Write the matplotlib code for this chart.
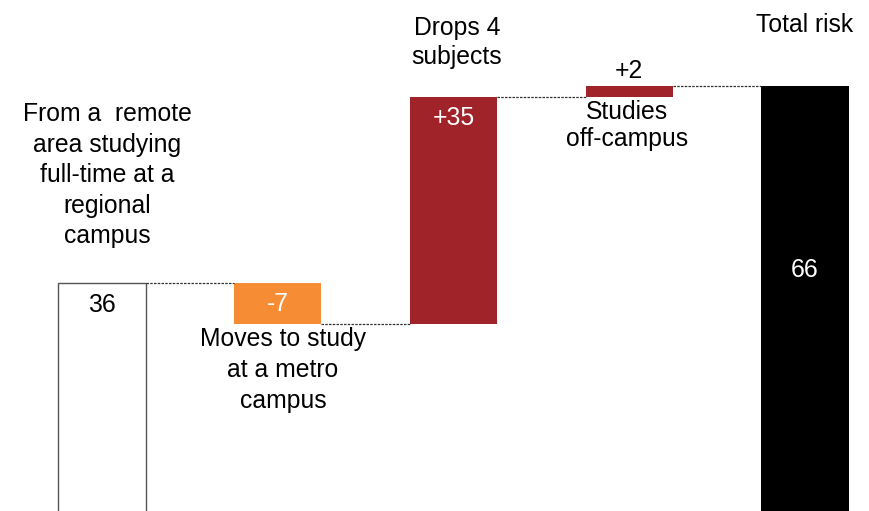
import matplotlib
matplotlib.use("Agg")
import matplotlib.pyplot as plt
import numpy as np

plt.rcParams['font.family'] = ['Liberation Sans', 'DejaVu Sans']

# waterfall steps
start_value = 36.0
changes = [-6.3, 34.6, 1.6]
value_labels = ["36", "-7", "+35", "+2", "66"]
categories = [
    "From a  remote\narea studying\nfull-time at a\nregional\ncampus",
    "Moves to study\nat a metro\ncampus",
    "Drops 4\nsubjects",
    "Studies\noff-campus",
    "Total risk",
]
bar_colors = ["white", "#F68D35", "#A0232A", "#A0232A", "black"]

level = np.cumsum([start_value] + changes)
total = level[-1]
bottoms = [0] + [min(level[i], level[i + 1]) for i in range(len(changes))] + [0]
heights = [start_value] + [abs(c) for c in changes] + [total]
x = np.arange(len(categories))
width = 0.497

fig = plt.figure(figsize=(8.7, 5.11), dpi=100)
ax = fig.add_axes([0, 0, 1, 1])
ax.bar(x, heights, width, bottom=bottoms, color=bar_colors,
       edgecolor=["#555555", "none", "none", "none", "none"], linewidth=1.0)

# dotted connectors between bars
for i in range(len(x) - 1):
    ax.plot([x[i] + width / 2, x[i + 1] - width / 2], [level[i], level[i]],
            color="#333333", linestyle=(0, (2, 1)), linewidth=0.9)

fs = 17.8
# value labels
ax.text(x[0], 31.6, value_labels[0], ha='center', va='baseline', fontsize=fs, color='black')
ax.text(x[1], 31.7, value_labels[1], ha='center', va='baseline', fontsize=fs, color='white')
ax.text(x[2], 60.0, value_labels[2], ha='center', va='baseline', fontsize=fs, color='white')
ax.text(x[3], 67.1, value_labels[3], ha='center', va='baseline', fontsize=fs, color='black')
ax.text(x[4], 36.8, value_labels[4], ha='center', va='baseline', fontsize=fs, color='white')

# category labels (y is the baseline of the last line)
ax.text(x[0] + 0.03, 42.0, categories[0], ha='center', va='baseline', fontsize=fs, linespacing=1.34)
ax.text(x[1] + 0.03, 17.0, categories[1], ha='center', va='baseline', fontsize=fs, linespacing=1.36)
ax.text(x[2] + 0.02, 69.3, categories[2], ha='center', va='baseline', fontsize=fs, linespacing=1.24)
ax.text(x[3] - 0.01, 56.8, categories[3], ha='center', va='baseline', fontsize=fs, linespacing=1.16)
ax.text(x[4], 74.1, categories[4], ha='center', va='baseline', fontsize=fs)

ax.set_xlim(-0.580, 4.370)
ax.set_ylim(1.31, 78.97)
ax.axis('off')

fig.savefig("out.png", dpi=100)
